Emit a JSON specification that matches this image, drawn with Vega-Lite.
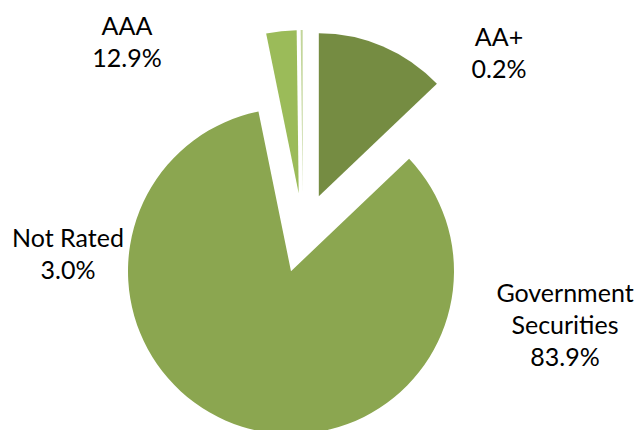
{
  "$schema": "https://vega.github.io/schema/vega-lite/v6.json",
  "width": 606,
  "height": 394,
  "padding": {"left": 0, "top": 36, "right": 30, "bottom": 0},
  "autosize": {"type": "none"},
  "background": "white",
  "config": {"view": {"stroke": null}},
  "data": {
    "values": [
      {"category": "AAA", "value": 12.9, "label": "AAA\n12.9%"},
      {"category": "Government Securities", "value": 83.9, "label": "Government\nSecurities\n83.9%"},
      {"category": "Not Rated", "value": 3.0, "label": "Not Rated\n3.0%"},
      {"category": "AA+", "value": 0.2, "label": "AA+\n0.2%"}
    ]
  },
  "transform": [{"stack": "value", "groupby": [], "as": ["v0", "v1"]}],
  "layer": [
    {
      "transform": [{"filter": "datum.category === 'AAA'"}],
      "mark": {"type": "arc", "outerRadius": 163, "xOffset": 15.8, "yOffset": -36.8},
      "encoding": {
        "theta": {"field": "v0", "type": "quantitative", "scale": {"domain": [0, 100]}},
        "theta2": {"field": "v1"},
        "color": {"field": "category", "type": "nominal", "legend": null,
          "scale": {"domain": ["AAA", "Government Securities", "Not Rated", "AA+"], "range": ["#758C42", "#8BA650", "#9BBB59", "#C3D69B"]}}
      }
    },
    {
      "transform": [{"filter": "datum.category === 'Government Securities'"}],
      "mark": {"type": "arc", "outerRadius": 163, "xOffset": -12.0, "yOffset": 38.2},
      "encoding": {
        "theta": {"field": "v0", "type": "quantitative", "scale": {"domain": [0, 100]}},
        "theta2": {"field": "v1"},
        "color": {"field": "category", "type": "nominal", "legend": null}
      }
    },
    {
      "transform": [{"filter": "datum.category === 'Not Rated'"}],
      "mark": {"type": "arc", "outerRadius": 163, "xOffset": -4.3, "yOffset": -39.8},
      "encoding": {
        "theta": {"field": "v0", "type": "quantitative", "scale": {"domain": [0, 100]}},
        "theta2": {"field": "v1"},
        "color": {"field": "category", "type": "nominal", "legend": null}
      }
    },
    {
      "transform": [{"filter": "datum.category === 'AA+'"}],
      "mark": {"type": "arc", "outerRadius": 163, "xOffset": -0.3, "yOffset": -40},
      "encoding": {
        "theta": {"field": "v0", "type": "quantitative", "scale": {"domain": [0, 100]}},
        "theta2": {"field": "v1"},
        "color": {"field": "category", "type": "nominal", "legend": null}
      }
    },
    {
      "transform": [{"filter": "datum.category === 'AAA'"}],
      "mark": {"type": "text", "x": 127, "y": -1, "align": "center", "baseline": "alphabetic", "lineBreak": "\n", "lineHeight": 32, "font": "Lato", "fontSize": 25, "color": "#000000"},
      "encoding": {"text": {"field": "label"}}
    },
    {
      "transform": [{"filter": "datum.category === 'AA+'"}],
      "mark": {"type": "text", "x": 499, "y": 10, "align": "center", "baseline": "alphabetic", "lineBreak": "\n", "lineHeight": 32, "font": "Lato", "fontSize": 25, "color": "#000000"},
      "encoding": {"text": {"field": "label"}}
    },
    {
      "transform": [{"filter": "datum.category === 'Not Rated'"}],
      "mark": {"type": "text", "x": 68, "y": 211, "align": "center", "baseline": "alphabetic", "lineBreak": "\n", "lineHeight": 32, "font": "Lato", "fontSize": 25, "color": "#000000"},
      "encoding": {"text": {"field": "label"}}
    },
    {
      "transform": [{"filter": "datum.category === 'Government Securities'"}],
      "mark": {"type": "text", "x": 565, "y": 266, "align": "center", "baseline": "alphabetic", "lineBreak": "\n", "lineHeight": 32, "font": "Lato", "fontSize": 25, "color": "#000000"},
      "encoding": {"text": {"field": "label"}}
    }
  ]
}
